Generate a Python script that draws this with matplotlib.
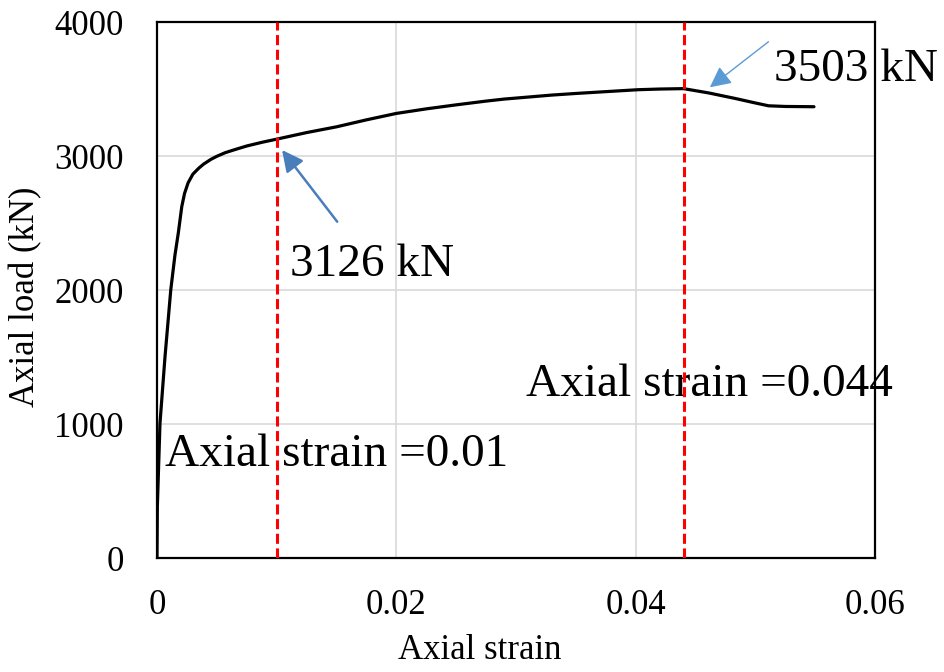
import matplotlib
matplotlib.use("Agg")
import matplotlib.pyplot as plt

# --- Test curve: axial strain vs axial load ---
strain = [0, 0.00003, 0.00025, 0.00067, 0.00115, 0.0015, 0.00178, 0.00207,
          0.0023, 0.0026, 0.003, 0.0035, 0.0039, 0.0045, 0.005, 0.0057, 0.0064,
          0.0075, 0.0088, 0.01, 0.0125, 0.015, 0.0175, 0.02, 0.0225, 0.025,
          0.0275, 0.029, 0.031, 0.033, 0.035, 0.0374, 0.0402, 0.042, 0.044,
          0.0461, 0.0483, 0.0498, 0.0511, 0.0525, 0.0549]
load = [0, 383, 1005, 1502, 2000, 2260, 2425, 2622,
        2720, 2800, 2865, 2910, 2940, 2975, 2998, 3025, 3045,
        3075, 3103, 3126, 3175, 3218, 3270, 3318, 3352, 3382,
        3410, 3425, 3440, 3455, 3467, 3480, 3495, 3500, 3503,
        3471, 3430, 3400, 3375, 3370, 3368]

# marked strain levels and the loads read there
mark_strain = [0.01, 0.044]
mark_load = [3126, 3503]

x_ticks = [0, 0.02, 0.04, 0.06]
x_tick_labels = ["0", "0.02", "0.04", "0.06"]
y_ticks = [0, 1000, 2000, 3000, 4000]

plt.rcParams["font.family"] = ["Liberation Serif", "DejaVu Serif"]

fig = plt.figure(figsize=(9.44, 6.72), dpi=100)
ax = fig.add_axes([0.1663, 0.1696, 0.7606, 0.7976])

ax.plot(strain, load, color="black", lw=2.3, zorder=3,
        solid_capstyle="round", solid_joinstyle="round")

for s in mark_strain:
    ax.axvline(s, color="#FF0000", lw=2.2, dashes=(3.3, 1.5), zorder=4)

ax.set_xlim(0, 0.06)
ax.set_ylim(0, 4000)
ax.set_xticks(x_ticks)
ax.set_xticklabels(x_tick_labels)
ax.set_yticks(y_ticks)
ax.grid(True, color="#D9D9D9", lw=1.2, zorder=0)
ax.set_axisbelow(True)
ax.tick_params(axis="both", length=0, labelsize=25)
ax.tick_params(axis="x", pad=22)
ax.tick_params(axis="y", pad=24)
for sp in ax.spines.values():
    sp.set_linewidth(1.6)

ax.set_xlabel("Axial strain", fontsize=25)
ax.xaxis.set_label_coords(0.449, -0.142)
ax.set_ylabel("Axial load (kN)", fontsize=25)
ax.yaxis.set_label_coords(-0.16, 0.487)

# load callouts with arrows
ax.annotate("", xy=(0.01045, 3045), xytext=(0.01506, 2510),
            arrowprops=dict(arrowstyle="-|>,head_length=0.8,head_width=0.4",
                            color="#4A7EBB", lw=1.8, shrinkA=0, shrinkB=0,
                            mutation_scale=16))
ax.text(0.0111, 2187, f"{mark_load[0]} kN", fontsize=34, va="center", ha="left")

ax.annotate("", xy=(0.0462, 3513), xytext=(0.0511, 3853),
            arrowprops=dict(arrowstyle="-|>,head_length=0.8,head_width=0.4",
                            color="#5B9BD5", lw=1.0, shrinkA=0, shrinkB=0,
                            mutation_scale=16))
ax.text(0.0516, 3642, f"{mark_load[1]} kN", fontsize=34, va="center", ha="left",
        clip_on=False)

ax.text(0.00067, 769, f"Axial strain ={mark_strain[0]}", fontsize=34,
        va="center", ha="left")
ax.text(0.0308, 1291, f"Axial strain ={mark_strain[1]}", fontsize=34,
        va="center", ha="left", clip_on=False)

fig.savefig("out.png", dpi=100)
